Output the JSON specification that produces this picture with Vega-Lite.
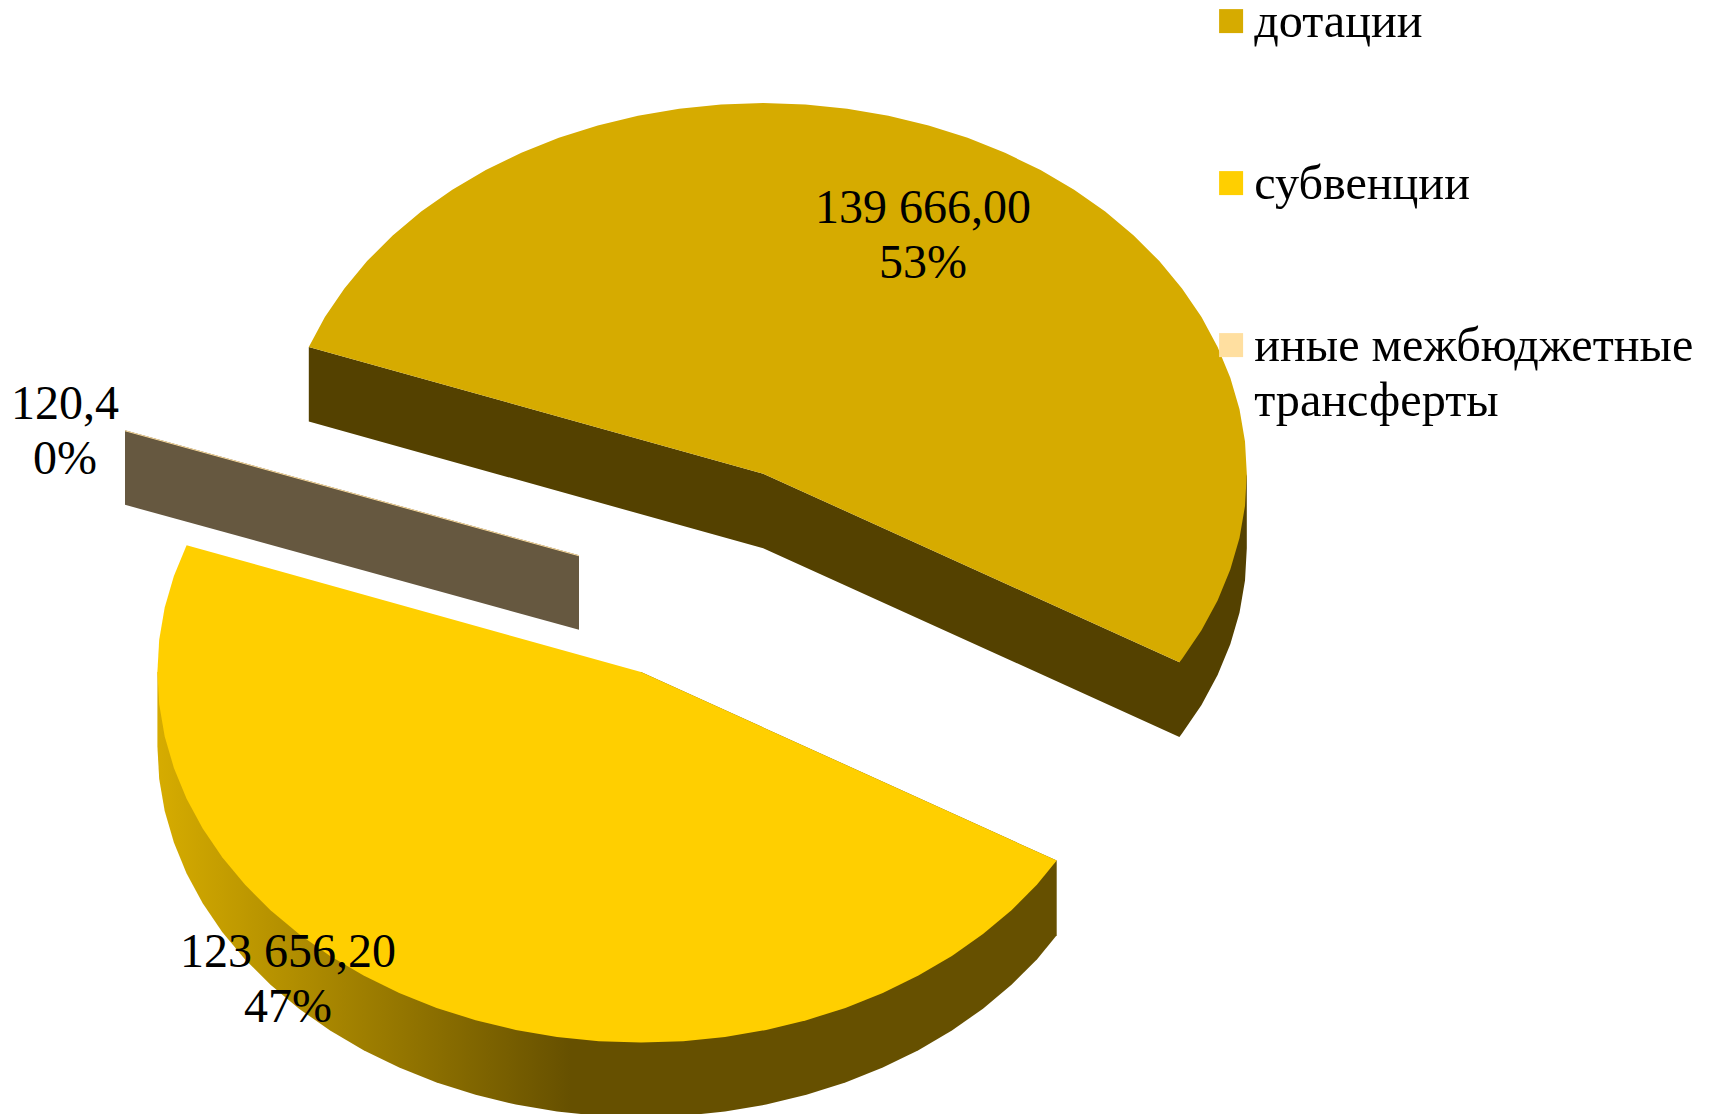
{"$schema":"https://vega.github.io/schema/vega-lite/v6.json","width":1720,"height":1114,"padding":0,"autosize":{"type":"fit","contains":"padding"},"background":"#ffffff","view":{"stroke":null},
"config":{"font":"Liberation Serif","view":{"stroke":null}},
"datasets":{
"rimTop":[{"x":1246.8,"y":473.7},{"x":1246.8,"y":548.3},{"x":1245.0,"y":580.6},{"x":1239.5,"y":612.7},{"x":1230.3,"y":644.2},{"x":1217.6,"y":675.1},{"x":1201.5,"y":704.9},{"x":1182.0,"y":733.6},{"x":1179.4,"y":736.9},{"x":763.2,"y":548.3},{"x":308.8,"y":421.5},{"x":308.8,"y":346.9},{"x":763.2,"y":473.7},{"x":1179.4,"y":662.3}],
"rimYellow":[{"x":157.4,"y":672.0},{"x":157.4,"y":746.6},{"x":159.2,"y":778.9},{"x":164.7,"y":811.0},{"x":173.9,"y":842.5},{"x":186.6,"y":873.4},{"x":202.7,"y":903.2},{"x":222.2,"y":931.9},{"x":244.9,"y":959.2},{"x":270.5,"y":984.8},{"x":299.0,"y":1008.7},{"x":330.1,"y":1030.5},{"x":363.6,"y":1050.2},{"x":399.2,"y":1067.5},{"x":436.6,"y":1082.5},{"x":475.6,"y":1094.8},{"x":515.8,"y":1104.6},{"x":557.0,"y":1111.6},{"x":598.8,"y":1115.8},{"x":641.0,"y":1117.2},{"x":683.2,"y":1115.8},{"x":725.0,"y":1111.6},{"x":766.2,"y":1104.6},{"x":806.4,"y":1094.8},{"x":845.4,"y":1082.5},{"x":882.8,"y":1067.5},{"x":918.4,"y":1050.2},{"x":951.9,"y":1030.5},{"x":983.0,"y":1008.7},{"x":1011.5,"y":984.8},{"x":1037.1,"y":959.2},{"x":1056.7,"y":935.2},{"x":1056.7,"y":860.6},{"x":641.0,"y":672.0}],
"slab":[{"x":125,"y":430.2},{"x":579,"y":555.2},{"x":579,"y":629.8},{"x":125,"y":504.8}],
"faceTop":[{"x":308.8,"y":346.9},{"x":324.9,"y":317.1},{"x":344.4,"y":288.4},{"x":367.1,"y":261.1},{"x":392.7,"y":235.5},{"x":421.2,"y":211.6},{"x":452.3,"y":189.8},{"x":485.8,"y":170.1},{"x":521.4,"y":152.8},{"x":558.8,"y":137.8},{"x":597.8,"y":125.5},{"x":638.0,"y":115.7},{"x":679.2,"y":108.7},{"x":721.0,"y":104.5},{"x":763.2,"y":103.1},{"x":805.4,"y":104.5},{"x":847.2,"y":108.7},{"x":888.4,"y":115.7},{"x":928.6,"y":125.5},{"x":967.6,"y":137.8},{"x":1005.0,"y":152.8},{"x":1040.6,"y":170.1},{"x":1074.1,"y":189.8},{"x":1105.2,"y":211.6},{"x":1133.7,"y":235.5},{"x":1159.3,"y":261.1},{"x":1182.0,"y":288.4},{"x":1201.5,"y":317.1},{"x":1217.6,"y":346.9},{"x":1230.3,"y":377.8},{"x":1239.5,"y":409.3},{"x":1245.0,"y":441.4},{"x":1246.8,"y":473.7},{"x":1245.0,"y":506.0},{"x":1239.5,"y":538.1},{"x":1230.3,"y":569.6},{"x":1217.6,"y":600.5},{"x":1201.5,"y":630.3},{"x":1182.0,"y":659.0},{"x":1179.4,"y":662.3},{"x":763.2,"y":473.7}],
"faceYellow":[{"x":186.6,"y":545.2},{"x":173.9,"y":576.1},{"x":164.7,"y":607.6},{"x":159.2,"y":639.7},{"x":157.4,"y":672.0},{"x":159.2,"y":704.3},{"x":164.7,"y":736.4},{"x":173.9,"y":767.9},{"x":186.6,"y":798.8},{"x":202.7,"y":828.6},{"x":222.2,"y":857.3},{"x":244.9,"y":884.6},{"x":270.5,"y":910.2},{"x":299.0,"y":934.1},{"x":330.1,"y":955.9},{"x":363.6,"y":975.6},{"x":399.2,"y":992.9},{"x":436.6,"y":1007.9},{"x":475.6,"y":1020.2},{"x":515.8,"y":1030.0},{"x":557.0,"y":1037.0},{"x":598.8,"y":1041.2},{"x":641.0,"y":1042.6},{"x":683.2,"y":1041.2},{"x":725.0,"y":1037.0},{"x":766.2,"y":1030.0},{"x":806.4,"y":1020.2},{"x":845.4,"y":1007.9},{"x":882.8,"y":992.9},{"x":918.4,"y":975.6},{"x":951.9,"y":955.9},{"x":983.0,"y":934.1},{"x":1011.5,"y":910.2},{"x":1037.1,"y":884.6},{"x":1056.7,"y":860.6},{"x":641.0,"y":672.0}],
"faceThin":[{"x":125,"y":430.2},{"x":579,"y":555.2},{"x":579,"y":556.2},{"x":125,"y":431.2}],
"labels":[{"category":"дотации","value":139666.0,"share":53,"lines":["139 666,00","53%"],"x":923,"y":208.5},{"category":"субвенции","value":123656.2,"share":47,"lines":["123 656,20","47%"],"x":288,"y":952.5},{"category":"иные межбюджетные трансферты","value":120.4,"share":0,"lines":["120,4","0%"],"x":65,"y":404.5}]
},
"encoding":{
"x":{"field":"x","type":"quantitative","scale":{"domain":[0,1720],"nice":false,"zero":false},"axis":null},
"y":{"field":"y","type":"quantitative","scale":{"domain":[1114,0],"nice":false,"zero":false},"axis":null}
},
"layer":[
{"data":{"name":"rimTop"},"mark":{"type":"line","fill":"#544100","strokeWidth":0,"clip":true},"encoding":{"order":{"value":null}}},
{"data":{"name":"rimYellow"},"mark":{"type":"line","clip":true,"strokeWidth":0,"fill":{"gradient":"linear","x1":0,"x2":1,"y1":0,"y2":0,"stops":[{"offset":0,"color":"#D6AC00"},{"offset":0.46,"color":"#665000"},{"offset":1,"color":"#665000"}]}},"encoding":{"order":{"value":null}}},
{"data":{"name":"slab"},"mark":{"type":"line","fill":"#665840","strokeWidth":0,"clip":true},"encoding":{"order":{"value":null}}},
{"data":{"name":"faceTop"},"mark":{"type":"line","fill":"#D6AB00","strokeWidth":0,"clip":true},"encoding":{"order":{"value":null}}},
{"data":{"name":"faceYellow"},"mark":{"type":"line","fill":"#FFCF00","strokeWidth":0,"clip":true},"encoding":{"order":{"value":null}}},
{"data":{"name":"faceThin"},"mark":{"type":"line","fill":"#FFDFA0","strokeWidth":0,"clip":true},"encoding":{"order":{"value":null}}},
{"data":{"name":"labels"},"mark":{"type":"text","font":"Liberation Serif","fontSize":48,"lineHeight":55,"baseline":"middle","align":"center","color":"#000000"},"encoding":{"text":{"field":"lines"}}},
{"data":{"name":"labels"},"mark":{"type":"point","filled":true,"opacity":0,"size":0},"encoding":{
"fill":{"field":"category","type":"nominal","scale":{"domain":["дотации","субвенции","иные межбюджетные трансферты"],"range":["#D6AB00","#FFCF00","#FFDFA0"]},
"legend":{"title":null,"orient":"none","legendX":1207,"legendY":-3,"symbolType":"square","symbolSize":576,"symbolOpacity":1,"symbolStrokeWidth":0,"labelFont":"Liberation Serif","labelFontSize":48.2,"labelColor":"#000000","labelOffset":-1,"labelLimit":0,"labelBaseline":"top","rowPadding":112,"zindex":1,"padding":0,"labelExpr":"datum.label == 'иные межбюджетные трансферты' ? ['иные межбюджетные','трансферты'] : datum.label","encoding":{"labels":{"lineHeight":{"value":55},"dy":{"value":-22}}}}}}}
]}
